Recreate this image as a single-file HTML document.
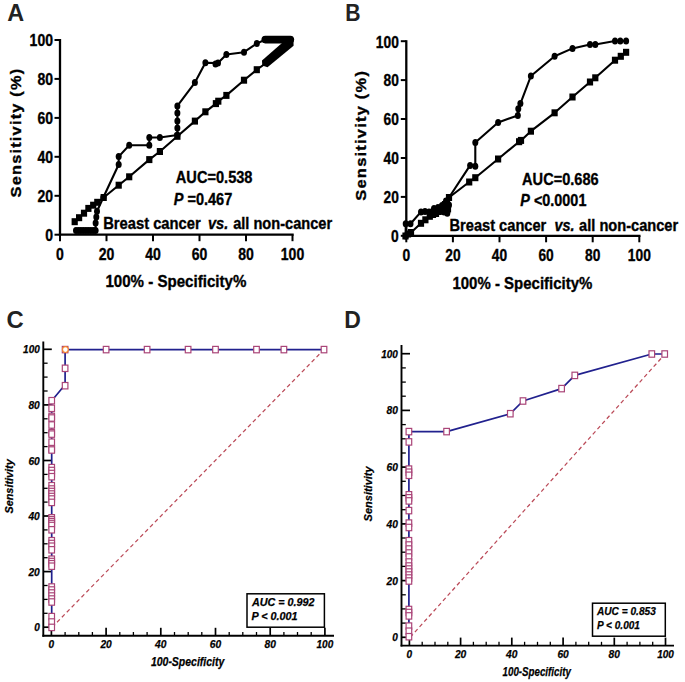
<!DOCTYPE html><html><head><meta charset="utf-8"><style>html,body{margin:0;padding:0;background:#fff;}svg{display:block;}text{font-family:"Liberation Sans",sans-serif;font-weight:bold;}</style></head><body>
<svg width="685" height="682" viewBox="0 0 685 682">
<rect width="685" height="682" fill="#fff"/>
<text x="7.2" y="21.2" font-size="23.2" textLength="16.9" lengthAdjust="spacingAndGlyphs" fill="#222" >A</text>
<line x1="60" y1="39" x2="60" y2="235.8" stroke="#000" stroke-width="2.3" />
<line x1="58.9" y1="234.7" x2="293.7" y2="234.7" stroke="#000" stroke-width="2.3" />
<line x1="54.5" y1="234.7" x2="60" y2="234.7" stroke="#000" stroke-width="2" />
<line x1="60" y1="234.7" x2="60" y2="241.2" stroke="#000" stroke-width="2" />
<text x="53" y="241" font-size="16.5" text-anchor="end" textLength="7.8" lengthAdjust="spacingAndGlyphs" stroke="#000" stroke-width="0.35">0</text>
<text x="60" y="260.3" font-size="16.5" text-anchor="middle" textLength="7.8" lengthAdjust="spacingAndGlyphs" stroke="#000" stroke-width="0.35">0</text>
<line x1="54.5" y1="195.8" x2="60" y2="195.8" stroke="#000" stroke-width="2" />
<line x1="106.5" y1="234.7" x2="106.5" y2="241.2" stroke="#000" stroke-width="2" />
<text x="53" y="202.1" font-size="16.5" text-anchor="end" textLength="15.6" lengthAdjust="spacingAndGlyphs" stroke="#000" stroke-width="0.35">20</text>
<text x="106.5" y="260.3" font-size="16.5" text-anchor="middle" textLength="15.6" lengthAdjust="spacingAndGlyphs" stroke="#000" stroke-width="0.35">20</text>
<line x1="54.5" y1="156.8" x2="60" y2="156.8" stroke="#000" stroke-width="2" />
<line x1="153" y1="234.7" x2="153" y2="241.2" stroke="#000" stroke-width="2" />
<text x="53" y="163.1" font-size="16.5" text-anchor="end" textLength="15.6" lengthAdjust="spacingAndGlyphs" stroke="#000" stroke-width="0.35">40</text>
<text x="153" y="260.3" font-size="16.5" text-anchor="middle" textLength="15.6" lengthAdjust="spacingAndGlyphs" stroke="#000" stroke-width="0.35">40</text>
<line x1="54.5" y1="117.9" x2="60" y2="117.9" stroke="#000" stroke-width="2" />
<line x1="199.5" y1="234.7" x2="199.5" y2="241.2" stroke="#000" stroke-width="2" />
<text x="53" y="124.2" font-size="16.5" text-anchor="end" textLength="15.6" lengthAdjust="spacingAndGlyphs" stroke="#000" stroke-width="0.35">60</text>
<text x="199.5" y="260.3" font-size="16.5" text-anchor="middle" textLength="15.6" lengthAdjust="spacingAndGlyphs" stroke="#000" stroke-width="0.35">60</text>
<line x1="54.5" y1="78.9" x2="60" y2="78.9" stroke="#000" stroke-width="2" />
<line x1="246" y1="234.7" x2="246" y2="241.2" stroke="#000" stroke-width="2" />
<text x="53" y="85.2" font-size="16.5" text-anchor="end" textLength="15.6" lengthAdjust="spacingAndGlyphs" stroke="#000" stroke-width="0.35">80</text>
<text x="246" y="260.3" font-size="16.5" text-anchor="middle" textLength="15.6" lengthAdjust="spacingAndGlyphs" stroke="#000" stroke-width="0.35">80</text>
<line x1="54.5" y1="40" x2="60" y2="40" stroke="#000" stroke-width="2" />
<line x1="292.5" y1="234.7" x2="292.5" y2="241.2" stroke="#000" stroke-width="2" />
<text x="53" y="46.3" font-size="16.5" text-anchor="end" textLength="23.4" lengthAdjust="spacingAndGlyphs" stroke="#000" stroke-width="0.35">100</text>
<text x="292.5" y="260.3" font-size="16.5" text-anchor="middle" textLength="23.4" lengthAdjust="spacingAndGlyphs" stroke="#000" stroke-width="0.35">100</text>
<text transform="translate(21,197.4) rotate(-90)" font-size="14.6" letter-spacing="1.1" textLength="129.8" lengthAdjust="spacingAndGlyphs" stroke="#000" stroke-width="0.35">Sensitivity (%)</text>
<text x="105.4" y="287.2" font-size="16.5" textLength="141" lengthAdjust="spacingAndGlyphs" stroke="#000" stroke-width="0.35">100% - Specificity%</text>
<text x="175.8" y="183.1" font-size="16.5" textLength="76.7" lengthAdjust="spacingAndGlyphs" stroke="#000" stroke-width="0.35">AUC=0.538</text>
<text x="173.7" y="205.2" font-size="16.5" textLength="58.6" lengthAdjust="spacingAndGlyphs" stroke="#000" stroke-width="0.35"><tspan font-style="italic">P</tspan> =0.467</text>
<text x="103.2" y="228.8" font-size="15.8" textLength="97.5" lengthAdjust="spacingAndGlyphs" stroke="#000" stroke-width="0.35">Breast cancer</text>
<text x="208" y="228.8" font-size="15.8" font-style="italic" textLength="20.3" lengthAdjust="spacingAndGlyphs" stroke="#000" stroke-width="0.35">vs.</text>
<text x="233.2" y="228.8" font-size="15.8" textLength="98.9" lengthAdjust="spacingAndGlyphs" stroke="#000" stroke-width="0.35">all non-cancer</text>
<polyline points="76,230.5 95.6,230.5 95.6,222.9 97,211.2 103.3,197.5 118.7,164.5 118.7,156.6 129.2,145.3 149.3,145.3 149.3,137.5 159.9,137.5 177.4,135 177.4,105.9 194.9,82.6 205.4,62.7 218,63 226.4,54.5 244,52.2 256.8,43.5 265.3,39.6 290.3,39.6" fill="none" stroke="#000" stroke-width="2.1" stroke-linejoin="round" />
<polyline points="74.7,221.7 79.1,217.7 84,213.2 88.4,208.4 93.2,205.2 97.3,202.3 103.7,197.5 118.7,185.2 129.2,176.8 149.3,159.6 159.9,151.5 177.4,136.3 194.9,121.1 205.4,111.8 215.9,103.6 218.3,101.2 226.4,95.4 244,80.2 256.8,69.7 265.5,63.5 291,41.5" fill="none" stroke="#000" stroke-width="2.1" stroke-linejoin="round" />
<ellipse cx="76" cy="230.5" rx="3" ry="3.5"/>
<ellipse cx="78.5" cy="230.5" rx="3" ry="3.5"/>
<ellipse cx="80.9" cy="230.5" rx="3" ry="3.5"/>
<ellipse cx="83.3" cy="230.5" rx="3" ry="3.5"/>
<ellipse cx="85.8" cy="230.5" rx="3" ry="3.5"/>
<ellipse cx="88.2" cy="230.5" rx="3" ry="3.5"/>
<ellipse cx="90.7" cy="230.5" rx="3" ry="3.5"/>
<ellipse cx="93.2" cy="230.5" rx="3" ry="3.5"/>
<ellipse cx="95.6" cy="230.5" rx="3" ry="3.5"/>
<ellipse cx="95.6" cy="222.9" rx="3" ry="3.5"/>
<ellipse cx="96.3" cy="217" rx="3" ry="3.5"/>
<ellipse cx="97" cy="211.2" rx="3" ry="3.5"/>
<ellipse cx="103.3" cy="197.5" rx="3" ry="3.5"/>
<ellipse cx="118.7" cy="164.5" rx="3" ry="3.5"/>
<ellipse cx="118.7" cy="156.6" rx="3" ry="3.5"/>
<ellipse cx="129.2" cy="145.3" rx="3" ry="3.5"/>
<ellipse cx="149.3" cy="145.3" rx="3" ry="3.5"/>
<ellipse cx="149.3" cy="137.5" rx="3" ry="3.5"/>
<ellipse cx="159.9" cy="137.5" rx="3" ry="3.5"/>
<ellipse cx="177.4" cy="135" rx="3" ry="3.5"/>
<ellipse cx="177.4" cy="128.1" rx="3" ry="3.5"/>
<ellipse cx="177.4" cy="121.1" rx="3" ry="3.5"/>
<ellipse cx="177.4" cy="112.9" rx="3" ry="3.5"/>
<ellipse cx="177.4" cy="105.9" rx="3" ry="3.5"/>
<ellipse cx="194.9" cy="82.6" rx="3" ry="3.5"/>
<ellipse cx="205.4" cy="62.7" rx="3" ry="3.5"/>
<ellipse cx="215.5" cy="63.9" rx="3" ry="3.5"/>
<ellipse cx="218" cy="63" rx="3" ry="3.5"/>
<ellipse cx="226.4" cy="54.5" rx="3" ry="3.5"/>
<ellipse cx="244" cy="52.2" rx="3" ry="3.5"/>
<ellipse cx="256.8" cy="43.5" rx="3" ry="3.5"/>
<ellipse cx="265.3" cy="39.6" rx="3" ry="3.5"/>
<ellipse cx="267.8" cy="39.6" rx="3" ry="3.5"/>
<ellipse cx="270.3" cy="39.6" rx="3" ry="3.5"/>
<ellipse cx="272.8" cy="39.6" rx="3" ry="3.5"/>
<ellipse cx="275.3" cy="39.6" rx="3" ry="3.5"/>
<ellipse cx="277.8" cy="39.6" rx="3" ry="3.5"/>
<ellipse cx="280.3" cy="39.6" rx="3" ry="3.5"/>
<ellipse cx="282.8" cy="39.6" rx="3" ry="3.5"/>
<ellipse cx="285.3" cy="39.6" rx="3" ry="3.5"/>
<ellipse cx="287.8" cy="39.6" rx="3" ry="3.5"/>
<ellipse cx="290.3" cy="39.6" rx="3" ry="3.5"/>
<rect x="71.6" y="218.2" width="6.2" height="7"/>
<rect x="76" y="214.2" width="6.2" height="7"/>
<rect x="80.9" y="209.7" width="6.2" height="7"/>
<rect x="85.3" y="204.9" width="6.2" height="7"/>
<rect x="90.1" y="201.7" width="6.2" height="7"/>
<rect x="94.2" y="198.8" width="6.2" height="7"/>
<rect x="100.6" y="194" width="6.2" height="7"/>
<rect x="115.6" y="181.7" width="6.2" height="7"/>
<rect x="126.1" y="173.3" width="6.2" height="7"/>
<rect x="146.2" y="156.1" width="6.2" height="7"/>
<rect x="156.8" y="148" width="6.2" height="7"/>
<rect x="174.3" y="132.8" width="6.2" height="7"/>
<rect x="191.8" y="117.6" width="6.2" height="7"/>
<rect x="202.3" y="108.3" width="6.2" height="7"/>
<rect x="212.8" y="100.1" width="6.2" height="7"/>
<rect x="215.2" y="97.7" width="6.2" height="7"/>
<rect x="223.3" y="91.9" width="6.2" height="7"/>
<rect x="240.9" y="76.7" width="6.2" height="7"/>
<rect x="253.7" y="66.2" width="6.2" height="7"/>
<line x1="265.3" y1="39.6" x2="290.3" y2="39.6" stroke="#000" stroke-width="7.7" stroke-linecap="round"/>
<polygon points="262,60.6 282,43 293.4,38 293.6,45.8 267.5,67.3 262.3,65.5" fill="#000"/>
<text x="345.2" y="21.2" font-size="23.2" textLength="15.3" lengthAdjust="spacingAndGlyphs" fill="#222" >B</text>
<line x1="406.3" y1="40.2" x2="406.3" y2="236.9" stroke="#000" stroke-width="2.3" />
<line x1="405.2" y1="235.8" x2="640.5" y2="235.8" stroke="#000" stroke-width="2.3" />
<line x1="400.8" y1="235.8" x2="406.3" y2="235.8" stroke="#000" stroke-width="2" />
<line x1="406.3" y1="235.8" x2="406.3" y2="242.3" stroke="#000" stroke-width="2" />
<text x="398.8" y="242.1" font-size="16.5" text-anchor="end" textLength="7.7" lengthAdjust="spacingAndGlyphs" stroke="#000" stroke-width="0.35">0</text>
<text x="406.3" y="260.8" font-size="16.5" text-anchor="middle" textLength="7.7" lengthAdjust="spacingAndGlyphs" stroke="#000" stroke-width="0.35">0</text>
<line x1="400.8" y1="196.9" x2="406.3" y2="196.9" stroke="#000" stroke-width="2" />
<line x1="452.9" y1="235.8" x2="452.9" y2="242.3" stroke="#000" stroke-width="2" />
<text x="398.8" y="203.2" font-size="16.5" text-anchor="end" textLength="15.3" lengthAdjust="spacingAndGlyphs" stroke="#000" stroke-width="0.35">20</text>
<text x="452.9" y="260.8" font-size="16.5" text-anchor="middle" textLength="15.3" lengthAdjust="spacingAndGlyphs" stroke="#000" stroke-width="0.35">20</text>
<line x1="400.8" y1="158" x2="406.3" y2="158" stroke="#000" stroke-width="2" />
<line x1="499.5" y1="235.8" x2="499.5" y2="242.3" stroke="#000" stroke-width="2" />
<text x="398.8" y="164.3" font-size="16.5" text-anchor="end" textLength="15.3" lengthAdjust="spacingAndGlyphs" stroke="#000" stroke-width="0.35">40</text>
<text x="499.5" y="260.8" font-size="16.5" text-anchor="middle" textLength="15.3" lengthAdjust="spacingAndGlyphs" stroke="#000" stroke-width="0.35">40</text>
<line x1="400.8" y1="119" x2="406.3" y2="119" stroke="#000" stroke-width="2" />
<line x1="546.1" y1="235.8" x2="546.1" y2="242.3" stroke="#000" stroke-width="2" />
<text x="398.8" y="125.3" font-size="16.5" text-anchor="end" textLength="15.3" lengthAdjust="spacingAndGlyphs" stroke="#000" stroke-width="0.35">60</text>
<text x="546.1" y="260.8" font-size="16.5" text-anchor="middle" textLength="15.3" lengthAdjust="spacingAndGlyphs" stroke="#000" stroke-width="0.35">60</text>
<line x1="400.8" y1="80.1" x2="406.3" y2="80.1" stroke="#000" stroke-width="2" />
<line x1="592.7" y1="235.8" x2="592.7" y2="242.3" stroke="#000" stroke-width="2" />
<text x="398.8" y="86.4" font-size="16.5" text-anchor="end" textLength="15.3" lengthAdjust="spacingAndGlyphs" stroke="#000" stroke-width="0.35">80</text>
<text x="592.7" y="260.8" font-size="16.5" text-anchor="middle" textLength="15.3" lengthAdjust="spacingAndGlyphs" stroke="#000" stroke-width="0.35">80</text>
<line x1="400.8" y1="41.2" x2="406.3" y2="41.2" stroke="#000" stroke-width="2" />
<line x1="639.3" y1="235.8" x2="639.3" y2="242.3" stroke="#000" stroke-width="2" />
<text x="398.8" y="47.5" font-size="16.5" text-anchor="end" textLength="23" lengthAdjust="spacingAndGlyphs" stroke="#000" stroke-width="0.35">100</text>
<text x="639.3" y="260.8" font-size="16.5" text-anchor="middle" textLength="23" lengthAdjust="spacingAndGlyphs" stroke="#000" stroke-width="0.35">100</text>
<text transform="translate(366.3,200.7) rotate(-90)" font-size="14.6" letter-spacing="1.1" textLength="130.8" lengthAdjust="spacingAndGlyphs" stroke="#000" stroke-width="0.35">Sensitivity (%)</text>
<text x="452.4" y="288.5" font-size="16.5" textLength="140" lengthAdjust="spacingAndGlyphs" stroke="#000" stroke-width="0.35">100% - Specificity%</text>
<text x="522.1" y="184.8" font-size="16.5" textLength="76.5" lengthAdjust="spacingAndGlyphs" stroke="#000" stroke-width="0.35">AUC=0.686</text>
<text x="520.3" y="206.4" font-size="16.5" textLength="66.1" lengthAdjust="spacingAndGlyphs" stroke="#000" stroke-width="0.35"><tspan font-style="italic">P</tspan> &lt;0.0001</text>
<text x="449.5" y="230.6" font-size="15.8" textLength="96.8" lengthAdjust="spacingAndGlyphs" stroke="#000" stroke-width="0.35">Breast cancer</text>
<text x="554.5" y="230.6" font-size="15.8" font-style="italic" textLength="20" lengthAdjust="spacingAndGlyphs" stroke="#000" stroke-width="0.35">vs.</text>
<text x="579.1" y="230.6" font-size="15.8" textLength="99.1" lengthAdjust="spacingAndGlyphs" stroke="#000" stroke-width="0.35">all non-cancer</text>
<polyline points="405.7,236 405.7,223.7 410.5,223.7 421,211.9 447.3,213.2 449,197.5 470.1,165.4 475.3,166.3 475.3,142.5 498.1,122.5 517.8,115.4 520.4,103.6 530.9,76 554.6,56.3 572.5,48.4 590,44.5 595.3,44.5 615,41 626.1,41" fill="none" stroke="#000" stroke-width="2.1" stroke-linejoin="round" />
<polyline points="405.5,236 408,234 411,232.5 421,223.3 425.4,219.8 429.8,216.3 433,214.5 436,213.5 438.5,211.5 441,209.5 443,207 445,204.5 447,201.5 444,211 448,209 446,206 449,197.5 469.2,182 475.3,177.7 498.1,159 519.1,141.7 521,140.4 530.9,131.2 554.6,112.8 572.5,97 590,82 595.3,77.8 615,60.2 620.8,56.3 626.1,52.3" fill="none" stroke="#000" stroke-width="2.1" stroke-linejoin="round" />
<ellipse cx="405.7" cy="236" rx="3" ry="3.5"/>
<ellipse cx="405.7" cy="223.7" rx="3" ry="3.5"/>
<ellipse cx="410.5" cy="223.7" rx="3" ry="3.5"/>
<ellipse cx="421" cy="211.9" rx="3" ry="3.5"/>
<ellipse cx="425" cy="211.5" rx="3" ry="3.5"/>
<ellipse cx="429" cy="212" rx="3" ry="3.5"/>
<ellipse cx="433" cy="211" rx="3" ry="3.5"/>
<ellipse cx="437" cy="211.5" rx="3" ry="3.5"/>
<ellipse cx="441" cy="210.5" rx="3" ry="3.5"/>
<ellipse cx="444" cy="212" rx="3" ry="3.5"/>
<ellipse cx="447.3" cy="213.2" rx="3" ry="3.5"/>
<ellipse cx="434" cy="208.5" rx="3" ry="3.5"/>
<ellipse cx="438" cy="207.5" rx="3" ry="3.5"/>
<ellipse cx="442" cy="205.5" rx="3" ry="3.5"/>
<ellipse cx="446" cy="201" rx="3" ry="3.5"/>
<ellipse cx="449" cy="205" rx="3" ry="3.5"/>
<ellipse cx="449" cy="197.5" rx="3" ry="3.5"/>
<ellipse cx="470.1" cy="165.4" rx="3" ry="3.5"/>
<ellipse cx="475.3" cy="166.3" rx="3" ry="3.5"/>
<ellipse cx="475.3" cy="142.5" rx="3" ry="3.5"/>
<ellipse cx="498.1" cy="122.5" rx="3" ry="3.5"/>
<ellipse cx="517.8" cy="115.4" rx="3" ry="3.5"/>
<ellipse cx="518.3" cy="108.8" rx="3" ry="3.5"/>
<ellipse cx="520.4" cy="103.6" rx="3" ry="3.5"/>
<ellipse cx="530.9" cy="76" rx="3" ry="3.5"/>
<ellipse cx="554.6" cy="56.3" rx="3" ry="3.5"/>
<ellipse cx="572.5" cy="48.4" rx="3" ry="3.5"/>
<ellipse cx="590" cy="44.5" rx="3" ry="3.5"/>
<ellipse cx="595.3" cy="44.5" rx="3" ry="3.5"/>
<ellipse cx="615" cy="41" rx="3" ry="3.5"/>
<ellipse cx="620.3" cy="41" rx="3" ry="3.5"/>
<ellipse cx="626.1" cy="41" rx="3" ry="3.5"/>
<rect x="402.4" y="232.5" width="6.2" height="7"/>
<rect x="404.9" y="230.5" width="6.2" height="7"/>
<rect x="407.9" y="229" width="6.2" height="7"/>
<rect x="417.9" y="219.8" width="6.2" height="7"/>
<rect x="422.3" y="216.3" width="6.2" height="7"/>
<rect x="426.7" y="212.8" width="6.2" height="7"/>
<rect x="429.9" y="211" width="6.2" height="7"/>
<rect x="432.9" y="210" width="6.2" height="7"/>
<rect x="435.4" y="208" width="6.2" height="7"/>
<rect x="437.9" y="206" width="6.2" height="7"/>
<rect x="439.9" y="203.5" width="6.2" height="7"/>
<rect x="441.9" y="201" width="6.2" height="7"/>
<rect x="443.9" y="198" width="6.2" height="7"/>
<rect x="440.9" y="207.5" width="6.2" height="7"/>
<rect x="444.9" y="205.5" width="6.2" height="7"/>
<rect x="442.9" y="202.5" width="6.2" height="7"/>
<rect x="445.9" y="194" width="6.2" height="7"/>
<rect x="466.1" y="178.5" width="6.2" height="7"/>
<rect x="472.2" y="174.2" width="6.2" height="7"/>
<rect x="495" y="155.5" width="6.2" height="7"/>
<rect x="516" y="138.2" width="6.2" height="7"/>
<rect x="517.9" y="136.9" width="6.2" height="7"/>
<rect x="527.8" y="127.7" width="6.2" height="7"/>
<rect x="551.5" y="109.3" width="6.2" height="7"/>
<rect x="569.4" y="93.5" width="6.2" height="7"/>
<rect x="586.9" y="78.5" width="6.2" height="7"/>
<rect x="592.2" y="74.3" width="6.2" height="7"/>
<rect x="611.9" y="56.7" width="6.2" height="7"/>
<rect x="617.7" y="52.8" width="6.2" height="7"/>
<rect x="623" y="48.8" width="6.2" height="7"/>
<text x="6.6" y="327.8" font-size="23.2" textLength="17.2" lengthAdjust="spacingAndGlyphs" fill="#222" >C</text>
<line x1="43.3" y1="341.4" x2="43.3" y2="636.7" stroke="#000" stroke-width="1.9" />
<line x1="42.4" y1="635.8" x2="334" y2="635.8" stroke="#000" stroke-width="1.9" />
<line x1="43.3" y1="627.2" x2="51.8" y2="627.2" stroke="#000" stroke-width="1.7" />
<line x1="51.4" y1="635.8" x2="51.4" y2="627.8" stroke="#000" stroke-width="1.7" />
<text x="39.8" y="631.2" font-size="11.3" font-style="italic" text-anchor="end" textLength="5.6" lengthAdjust="spacingAndGlyphs" stroke="#000" stroke-width="0.25">0</text>
<text x="51.4" y="648.2" font-size="11.3" font-style="italic" text-anchor="middle" textLength="5.6" lengthAdjust="spacingAndGlyphs" stroke="#000" stroke-width="0.25">0</text>
<line x1="43.3" y1="613.3" x2="47.6" y2="613.3" stroke="#000" stroke-width="1.3" />
<line x1="65.1" y1="635.8" x2="65.1" y2="632" stroke="#000" stroke-width="1.3" />
<line x1="43.3" y1="599.4" x2="47.6" y2="599.4" stroke="#000" stroke-width="1.3" />
<line x1="78.8" y1="635.8" x2="78.8" y2="632" stroke="#000" stroke-width="1.3" />
<line x1="43.3" y1="585.5" x2="47.6" y2="585.5" stroke="#000" stroke-width="1.3" />
<line x1="92.4" y1="635.8" x2="92.4" y2="632" stroke="#000" stroke-width="1.3" />
<line x1="43.3" y1="571.6" x2="51.8" y2="571.6" stroke="#000" stroke-width="1.7" />
<line x1="106.1" y1="635.8" x2="106.1" y2="627.8" stroke="#000" stroke-width="1.7" />
<text x="39.8" y="575.6" font-size="11.3" font-style="italic" text-anchor="end" textLength="11.4" lengthAdjust="spacingAndGlyphs" stroke="#000" stroke-width="0.25">20</text>
<text x="106.1" y="648.2" font-size="11.3" font-style="italic" text-anchor="middle" textLength="11.4" lengthAdjust="spacingAndGlyphs" stroke="#000" stroke-width="0.25">20</text>
<line x1="43.3" y1="557.7" x2="47.6" y2="557.7" stroke="#000" stroke-width="1.3" />
<line x1="119.8" y1="635.8" x2="119.8" y2="632" stroke="#000" stroke-width="1.3" />
<line x1="43.3" y1="543.8" x2="47.6" y2="543.8" stroke="#000" stroke-width="1.3" />
<line x1="133.4" y1="635.8" x2="133.4" y2="632" stroke="#000" stroke-width="1.3" />
<line x1="43.3" y1="529.9" x2="47.6" y2="529.9" stroke="#000" stroke-width="1.3" />
<line x1="147.1" y1="635.8" x2="147.1" y2="632" stroke="#000" stroke-width="1.3" />
<line x1="43.3" y1="516" x2="51.8" y2="516" stroke="#000" stroke-width="1.7" />
<line x1="160.8" y1="635.8" x2="160.8" y2="627.8" stroke="#000" stroke-width="1.7" />
<text x="39.8" y="520" font-size="11.3" font-style="italic" text-anchor="end" textLength="11.4" lengthAdjust="spacingAndGlyphs" stroke="#000" stroke-width="0.25">40</text>
<text x="160.8" y="648.2" font-size="11.3" font-style="italic" text-anchor="middle" textLength="11.4" lengthAdjust="spacingAndGlyphs" stroke="#000" stroke-width="0.25">40</text>
<line x1="43.3" y1="502.1" x2="47.6" y2="502.1" stroke="#000" stroke-width="1.3" />
<line x1="174.5" y1="635.8" x2="174.5" y2="632" stroke="#000" stroke-width="1.3" />
<line x1="43.3" y1="488.3" x2="47.6" y2="488.3" stroke="#000" stroke-width="1.3" />
<line x1="188.2" y1="635.8" x2="188.2" y2="632" stroke="#000" stroke-width="1.3" />
<line x1="43.3" y1="474.4" x2="47.6" y2="474.4" stroke="#000" stroke-width="1.3" />
<line x1="201.8" y1="635.8" x2="201.8" y2="632" stroke="#000" stroke-width="1.3" />
<line x1="43.3" y1="460.5" x2="51.8" y2="460.5" stroke="#000" stroke-width="1.7" />
<line x1="215.5" y1="635.8" x2="215.5" y2="627.8" stroke="#000" stroke-width="1.7" />
<text x="39.8" y="464.5" font-size="11.3" font-style="italic" text-anchor="end" textLength="11.4" lengthAdjust="spacingAndGlyphs" stroke="#000" stroke-width="0.25">60</text>
<text x="215.5" y="648.2" font-size="11.3" font-style="italic" text-anchor="middle" textLength="11.4" lengthAdjust="spacingAndGlyphs" stroke="#000" stroke-width="0.25">60</text>
<line x1="43.3" y1="446.6" x2="47.6" y2="446.6" stroke="#000" stroke-width="1.3" />
<line x1="229.2" y1="635.8" x2="229.2" y2="632" stroke="#000" stroke-width="1.3" />
<line x1="43.3" y1="432.7" x2="47.6" y2="432.7" stroke="#000" stroke-width="1.3" />
<line x1="242.8" y1="635.8" x2="242.8" y2="632" stroke="#000" stroke-width="1.3" />
<line x1="43.3" y1="418.8" x2="47.6" y2="418.8" stroke="#000" stroke-width="1.3" />
<line x1="256.5" y1="635.8" x2="256.5" y2="632" stroke="#000" stroke-width="1.3" />
<line x1="43.3" y1="404.9" x2="51.8" y2="404.9" stroke="#000" stroke-width="1.7" />
<line x1="270.2" y1="635.8" x2="270.2" y2="627.8" stroke="#000" stroke-width="1.7" />
<text x="39.8" y="408.9" font-size="11.3" font-style="italic" text-anchor="end" textLength="11.4" lengthAdjust="spacingAndGlyphs" stroke="#000" stroke-width="0.25">80</text>
<text x="270.2" y="648.2" font-size="11.3" font-style="italic" text-anchor="middle" textLength="11.4" lengthAdjust="spacingAndGlyphs" stroke="#000" stroke-width="0.25">80</text>
<line x1="43.3" y1="391" x2="47.6" y2="391" stroke="#000" stroke-width="1.3" />
<line x1="283.9" y1="635.8" x2="283.9" y2="632" stroke="#000" stroke-width="1.3" />
<line x1="43.3" y1="377.1" x2="47.6" y2="377.1" stroke="#000" stroke-width="1.3" />
<line x1="297.5" y1="635.8" x2="297.5" y2="632" stroke="#000" stroke-width="1.3" />
<line x1="43.3" y1="363.2" x2="47.6" y2="363.2" stroke="#000" stroke-width="1.3" />
<line x1="311.2" y1="635.8" x2="311.2" y2="632" stroke="#000" stroke-width="1.3" />
<line x1="43.3" y1="349.3" x2="51.8" y2="349.3" stroke="#000" stroke-width="1.7" />
<line x1="324.9" y1="635.8" x2="324.9" y2="627.8" stroke="#000" stroke-width="1.7" />
<text x="39.8" y="353.3" font-size="11.3" font-style="italic" text-anchor="end" textLength="16.7" lengthAdjust="spacingAndGlyphs" stroke="#000" stroke-width="0.25">100</text>
<text x="324.9" y="648.2" font-size="11.3" font-style="italic" text-anchor="middle" textLength="16.7" lengthAdjust="spacingAndGlyphs" stroke="#000" stroke-width="0.25">100</text>
<text transform="translate(12.8,513.5) rotate(-90)" font-size="11.6" font-style="italic" textLength="54.2" lengthAdjust="spacingAndGlyphs" stroke="#000" stroke-width="0.25">Sensitivity</text>
<text x="150.9" y="665.5" font-size="12.4" font-style="italic" textLength="73.4" lengthAdjust="spacingAndGlyphs" stroke="#000" stroke-width="0.25">100-Specificity</text>
<line x1="52.1" y1="627.2" x2="323.9" y2="349.6" stroke="#bb4a58" stroke-width="1.25" stroke-dasharray="4,3"/>
<polyline points="51.7,627.2 51.7,400.8 61.5,389 65.1,385.7 65.1,349.6 324,349.6" fill="none" stroke="#21218e" stroke-width="1.7" stroke-linejoin="round" />
<rect x="48.9" y="397.5" width="5.6" height="6.4" fill="#fff" stroke="#aa4578" stroke-width="1.2"/>
<rect x="48.9" y="405.1" width="5.6" height="6.4" fill="#fff" stroke="#aa4578" stroke-width="1.2"/>
<rect x="48.9" y="413.2" width="5.6" height="6.4" fill="#fff" stroke="#aa4578" stroke-width="1.2"/>
<rect x="48.9" y="414.8" width="5.6" height="6.4" fill="#fff" stroke="#aa4578" stroke-width="1.2"/>
<rect x="48.9" y="421.8" width="5.6" height="6.4" fill="#fff" stroke="#aa4578" stroke-width="1.2"/>
<rect x="48.9" y="429.5" width="5.6" height="6.4" fill="#fff" stroke="#aa4578" stroke-width="1.2"/>
<rect x="48.9" y="430.9" width="5.6" height="6.4" fill="#fff" stroke="#aa4578" stroke-width="1.2"/>
<rect x="48.9" y="439" width="5.6" height="6.4" fill="#fff" stroke="#aa4578" stroke-width="1.2"/>
<rect x="48.9" y="445.7" width="5.6" height="6.4" fill="#fff" stroke="#aa4578" stroke-width="1.2"/>
<rect x="48.9" y="446.8" width="5.6" height="6.4" fill="#fff" stroke="#aa4578" stroke-width="1.2"/>
<rect x="48.9" y="464.4" width="5.6" height="6.4" fill="#fff" stroke="#aa4578" stroke-width="1.2"/>
<rect x="48.9" y="467.3" width="5.6" height="6.4" fill="#fff" stroke="#aa4578" stroke-width="1.2"/>
<rect x="48.9" y="470.3" width="5.6" height="6.4" fill="#fff" stroke="#aa4578" stroke-width="1.2"/>
<rect x="48.9" y="473.5" width="5.6" height="6.4" fill="#fff" stroke="#aa4578" stroke-width="1.2"/>
<rect x="48.9" y="482.5" width="5.6" height="6.4" fill="#fff" stroke="#aa4578" stroke-width="1.2"/>
<rect x="48.9" y="485.8" width="5.6" height="6.4" fill="#fff" stroke="#aa4578" stroke-width="1.2"/>
<rect x="48.9" y="488.3" width="5.6" height="6.4" fill="#fff" stroke="#aa4578" stroke-width="1.2"/>
<rect x="48.9" y="490.8" width="5.6" height="6.4" fill="#fff" stroke="#aa4578" stroke-width="1.2"/>
<rect x="48.9" y="493.3" width="5.6" height="6.4" fill="#fff" stroke="#aa4578" stroke-width="1.2"/>
<rect x="48.9" y="495.8" width="5.6" height="6.4" fill="#fff" stroke="#aa4578" stroke-width="1.2"/>
<rect x="48.9" y="499.2" width="5.6" height="6.4" fill="#fff" stroke="#aa4578" stroke-width="1.2"/>
<rect x="48.9" y="514.6" width="5.6" height="6.4" fill="#fff" stroke="#aa4578" stroke-width="1.2"/>
<rect x="48.9" y="516.5" width="5.6" height="6.4" fill="#fff" stroke="#aa4578" stroke-width="1.2"/>
<rect x="48.9" y="518.4" width="5.6" height="6.4" fill="#fff" stroke="#aa4578" stroke-width="1.2"/>
<rect x="48.9" y="520.3" width="5.6" height="6.4" fill="#fff" stroke="#aa4578" stroke-width="1.2"/>
<rect x="48.9" y="522.3" width="5.6" height="6.4" fill="#fff" stroke="#aa4578" stroke-width="1.2"/>
<rect x="48.9" y="526.6" width="5.6" height="6.4" fill="#fff" stroke="#aa4578" stroke-width="1.2"/>
<rect x="48.9" y="537.5" width="5.6" height="6.4" fill="#fff" stroke="#aa4578" stroke-width="1.2"/>
<rect x="48.9" y="540.3" width="5.6" height="6.4" fill="#fff" stroke="#aa4578" stroke-width="1.2"/>
<rect x="48.9" y="543" width="5.6" height="6.4" fill="#fff" stroke="#aa4578" stroke-width="1.2"/>
<rect x="48.9" y="546.6" width="5.6" height="6.4" fill="#fff" stroke="#aa4578" stroke-width="1.2"/>
<rect x="48.9" y="556" width="5.6" height="6.4" fill="#fff" stroke="#aa4578" stroke-width="1.2"/>
<rect x="48.9" y="558.3" width="5.6" height="6.4" fill="#fff" stroke="#aa4578" stroke-width="1.2"/>
<rect x="48.9" y="560.5" width="5.6" height="6.4" fill="#fff" stroke="#aa4578" stroke-width="1.2"/>
<rect x="48.9" y="563" width="5.6" height="6.4" fill="#fff" stroke="#aa4578" stroke-width="1.2"/>
<rect x="48.9" y="583.8" width="5.6" height="6.4" fill="#fff" stroke="#aa4578" stroke-width="1.2"/>
<rect x="48.9" y="586.8" width="5.6" height="6.4" fill="#fff" stroke="#aa4578" stroke-width="1.2"/>
<rect x="48.9" y="589.8" width="5.6" height="6.4" fill="#fff" stroke="#aa4578" stroke-width="1.2"/>
<rect x="48.9" y="592.8" width="5.6" height="6.4" fill="#fff" stroke="#aa4578" stroke-width="1.2"/>
<rect x="48.9" y="595.8" width="5.6" height="6.4" fill="#fff" stroke="#aa4578" stroke-width="1.2"/>
<rect x="48.9" y="598.8" width="5.6" height="6.4" fill="#fff" stroke="#aa4578" stroke-width="1.2"/>
<rect x="48.9" y="613.4" width="5.6" height="6.4" fill="#fff" stroke="#aa4578" stroke-width="1.2"/>
<rect x="48.9" y="618.8" width="5.6" height="6.4" fill="#fff" stroke="#aa4578" stroke-width="1.2"/>
<rect x="48.9" y="624.2" width="5.6" height="6.4" fill="#fff" stroke="#aa4578" stroke-width="1.2"/>
<rect x="62.3" y="382.5" width="5.6" height="6.4" fill="#fff" stroke="#aa4578" stroke-width="1.2"/>
<rect x="62.3" y="365.1" width="5.6" height="6.4" fill="#fff" stroke="#aa4578" stroke-width="1.2"/>
<rect x="62.3" y="346.4" width="5.6" height="6.4" fill="#fff" stroke="#aa4578" stroke-width="1.2"/>
<rect x="103.3" y="346.4" width="5.6" height="6.4" fill="#fff" stroke="#aa4578" stroke-width="1.2"/>
<rect x="144.3" y="346.4" width="5.6" height="6.4" fill="#fff" stroke="#aa4578" stroke-width="1.2"/>
<rect x="185.3" y="346.4" width="5.6" height="6.4" fill="#fff" stroke="#aa4578" stroke-width="1.2"/>
<rect x="212.7" y="346.4" width="5.6" height="6.4" fill="#fff" stroke="#aa4578" stroke-width="1.2"/>
<rect x="253.7" y="346.4" width="5.6" height="6.4" fill="#fff" stroke="#aa4578" stroke-width="1.2"/>
<rect x="281.1" y="346.4" width="5.6" height="6.4" fill="#fff" stroke="#aa4578" stroke-width="1.2"/>
<rect x="321.2" y="346.4" width="5.6" height="6.4" fill="#fff" stroke="#aa4578" stroke-width="1.2"/>
<circle cx="65.4" cy="349.6" r="2.9" fill="#fff" stroke="#f5852e" stroke-width="1.2"/>
<rect x="247" y="593.8" width="77.4" height="33.4" fill="#fff" stroke="#000" stroke-width="1.5"/>
<text x="251.9" y="605.6" font-size="11.6" font-style="italic" textLength="62.6" lengthAdjust="spacingAndGlyphs" stroke="#000" stroke-width="0.25">AUC = 0.992</text>
<text x="251.4" y="619.9" font-size="11.6" font-style="italic" textLength="46.2" lengthAdjust="spacingAndGlyphs" stroke="#000" stroke-width="0.25">P &lt; 0.001</text>
<text x="344.3" y="328.2" font-size="23.2" textLength="16.6" lengthAdjust="spacingAndGlyphs" fill="#222" >D</text>
<line x1="401.5" y1="344.9" x2="401.5" y2="646.5" stroke="#000" stroke-width="1.9" />
<line x1="400.6" y1="645.6" x2="674" y2="645.6" stroke="#000" stroke-width="1.9" />
<line x1="401.5" y1="637.3" x2="410" y2="637.3" stroke="#000" stroke-width="1.7" />
<line x1="409.4" y1="645.6" x2="409.4" y2="637.6" stroke="#000" stroke-width="1.7" />
<text x="397.9" y="641.3" font-size="11.3" font-style="italic" text-anchor="end" textLength="5.6" lengthAdjust="spacingAndGlyphs" stroke="#000" stroke-width="0.25">0</text>
<text x="409.4" y="658.1" font-size="11.3" font-style="italic" text-anchor="middle" textLength="5.6" lengthAdjust="spacingAndGlyphs" stroke="#000" stroke-width="0.25">0</text>
<line x1="401.5" y1="623.1" x2="405.8" y2="623.1" stroke="#000" stroke-width="1.3" />
<line x1="422.2" y1="645.6" x2="422.2" y2="641.8" stroke="#000" stroke-width="1.3" />
<line x1="401.5" y1="608.9" x2="405.8" y2="608.9" stroke="#000" stroke-width="1.3" />
<line x1="435" y1="645.6" x2="435" y2="641.8" stroke="#000" stroke-width="1.3" />
<line x1="401.5" y1="594.8" x2="405.8" y2="594.8" stroke="#000" stroke-width="1.3" />
<line x1="447.8" y1="645.6" x2="447.8" y2="641.8" stroke="#000" stroke-width="1.3" />
<line x1="401.5" y1="580.6" x2="410" y2="580.6" stroke="#000" stroke-width="1.7" />
<line x1="460.6" y1="645.6" x2="460.6" y2="637.6" stroke="#000" stroke-width="1.7" />
<text x="397.9" y="584.6" font-size="11.3" font-style="italic" text-anchor="end" textLength="11.4" lengthAdjust="spacingAndGlyphs" stroke="#000" stroke-width="0.25">20</text>
<text x="460.6" y="658.1" font-size="11.3" font-style="italic" text-anchor="middle" textLength="11.4" lengthAdjust="spacingAndGlyphs" stroke="#000" stroke-width="0.25">20</text>
<line x1="401.5" y1="566.4" x2="405.8" y2="566.4" stroke="#000" stroke-width="1.3" />
<line x1="473.4" y1="645.6" x2="473.4" y2="641.8" stroke="#000" stroke-width="1.3" />
<line x1="401.5" y1="552.2" x2="405.8" y2="552.2" stroke="#000" stroke-width="1.3" />
<line x1="486.2" y1="645.6" x2="486.2" y2="641.8" stroke="#000" stroke-width="1.3" />
<line x1="401.5" y1="538" x2="405.8" y2="538" stroke="#000" stroke-width="1.3" />
<line x1="499" y1="645.6" x2="499" y2="641.8" stroke="#000" stroke-width="1.3" />
<line x1="401.5" y1="523.9" x2="410" y2="523.9" stroke="#000" stroke-width="1.7" />
<line x1="511.8" y1="645.6" x2="511.8" y2="637.6" stroke="#000" stroke-width="1.7" />
<text x="397.9" y="527.9" font-size="11.3" font-style="italic" text-anchor="end" textLength="11.4" lengthAdjust="spacingAndGlyphs" stroke="#000" stroke-width="0.25">40</text>
<text x="511.8" y="658.1" font-size="11.3" font-style="italic" text-anchor="middle" textLength="11.4" lengthAdjust="spacingAndGlyphs" stroke="#000" stroke-width="0.25">40</text>
<line x1="401.5" y1="509.7" x2="405.8" y2="509.7" stroke="#000" stroke-width="1.3" />
<line x1="524.6" y1="645.6" x2="524.6" y2="641.8" stroke="#000" stroke-width="1.3" />
<line x1="401.5" y1="495.5" x2="405.8" y2="495.5" stroke="#000" stroke-width="1.3" />
<line x1="537.5" y1="645.6" x2="537.5" y2="641.8" stroke="#000" stroke-width="1.3" />
<line x1="401.5" y1="481.3" x2="405.8" y2="481.3" stroke="#000" stroke-width="1.3" />
<line x1="550.3" y1="645.6" x2="550.3" y2="641.8" stroke="#000" stroke-width="1.3" />
<line x1="401.5" y1="467.1" x2="410" y2="467.1" stroke="#000" stroke-width="1.7" />
<line x1="563.1" y1="645.6" x2="563.1" y2="637.6" stroke="#000" stroke-width="1.7" />
<text x="397.9" y="471.1" font-size="11.3" font-style="italic" text-anchor="end" textLength="11.4" lengthAdjust="spacingAndGlyphs" stroke="#000" stroke-width="0.25">60</text>
<text x="563.1" y="658.1" font-size="11.3" font-style="italic" text-anchor="middle" textLength="11.4" lengthAdjust="spacingAndGlyphs" stroke="#000" stroke-width="0.25">60</text>
<line x1="401.5" y1="453" x2="405.8" y2="453" stroke="#000" stroke-width="1.3" />
<line x1="575.9" y1="645.6" x2="575.9" y2="641.8" stroke="#000" stroke-width="1.3" />
<line x1="401.5" y1="438.8" x2="405.8" y2="438.8" stroke="#000" stroke-width="1.3" />
<line x1="588.7" y1="645.6" x2="588.7" y2="641.8" stroke="#000" stroke-width="1.3" />
<line x1="401.5" y1="424.6" x2="405.8" y2="424.6" stroke="#000" stroke-width="1.3" />
<line x1="601.5" y1="645.6" x2="601.5" y2="641.8" stroke="#000" stroke-width="1.3" />
<line x1="401.5" y1="410.4" x2="410" y2="410.4" stroke="#000" stroke-width="1.7" />
<line x1="614.3" y1="645.6" x2="614.3" y2="637.6" stroke="#000" stroke-width="1.7" />
<text x="397.9" y="414.4" font-size="11.3" font-style="italic" text-anchor="end" textLength="11.4" lengthAdjust="spacingAndGlyphs" stroke="#000" stroke-width="0.25">80</text>
<text x="614.3" y="658.1" font-size="11.3" font-style="italic" text-anchor="middle" textLength="11.4" lengthAdjust="spacingAndGlyphs" stroke="#000" stroke-width="0.25">80</text>
<line x1="401.5" y1="396.2" x2="405.8" y2="396.2" stroke="#000" stroke-width="1.3" />
<line x1="627.1" y1="645.6" x2="627.1" y2="641.8" stroke="#000" stroke-width="1.3" />
<line x1="401.5" y1="382.1" x2="405.8" y2="382.1" stroke="#000" stroke-width="1.3" />
<line x1="639.9" y1="645.6" x2="639.9" y2="641.8" stroke="#000" stroke-width="1.3" />
<line x1="401.5" y1="367.9" x2="405.8" y2="367.9" stroke="#000" stroke-width="1.3" />
<line x1="652.7" y1="645.6" x2="652.7" y2="641.8" stroke="#000" stroke-width="1.3" />
<line x1="401.5" y1="353.7" x2="410" y2="353.7" stroke="#000" stroke-width="1.7" />
<line x1="665.5" y1="645.6" x2="665.5" y2="637.6" stroke="#000" stroke-width="1.7" />
<text x="397.9" y="357.7" font-size="11.3" font-style="italic" text-anchor="end" textLength="16.7" lengthAdjust="spacingAndGlyphs" stroke="#000" stroke-width="0.25">100</text>
<text x="665.5" y="658.1" font-size="11.3" font-style="italic" text-anchor="middle" textLength="16.7" lengthAdjust="spacingAndGlyphs" stroke="#000" stroke-width="0.25">100</text>
<text transform="translate(372,521.4) rotate(-90)" font-size="11.6" font-style="italic" textLength="55" lengthAdjust="spacingAndGlyphs" stroke="#000" stroke-width="0.25">Sensitivity</text>
<text x="502.6" y="675.5" font-size="12.4" font-style="italic" textLength="68.2" lengthAdjust="spacingAndGlyphs" stroke="#000" stroke-width="0.25">100-Specificity</text>
<line x1="410.2" y1="637.3" x2="664.9" y2="354.2" stroke="#bb4a58" stroke-width="1.25" stroke-dasharray="4,3"/>
<polyline points="408.9,637.3 408.9,431.6 446.6,431.6 510.3,413.7 523,401 561.6,388.6 574.8,375.4 651.8,354 664.7,354" fill="none" stroke="#21218e" stroke-width="1.7" stroke-linejoin="round" />
<rect x="406.1" y="428.4" width="5.6" height="6.4" fill="#fff" stroke="#aa4578" stroke-width="1.2"/>
<rect x="406.1" y="438.7" width="5.6" height="6.4" fill="#fff" stroke="#aa4578" stroke-width="1.2"/>
<rect x="406.1" y="465.9" width="5.6" height="6.4" fill="#fff" stroke="#aa4578" stroke-width="1.2"/>
<rect x="406.1" y="469" width="5.6" height="6.4" fill="#fff" stroke="#aa4578" stroke-width="1.2"/>
<rect x="406.1" y="472.1" width="5.6" height="6.4" fill="#fff" stroke="#aa4578" stroke-width="1.2"/>
<rect x="406.1" y="491.6" width="5.6" height="6.4" fill="#fff" stroke="#aa4578" stroke-width="1.2"/>
<rect x="406.1" y="494.6" width="5.6" height="6.4" fill="#fff" stroke="#aa4578" stroke-width="1.2"/>
<rect x="406.1" y="497.7" width="5.6" height="6.4" fill="#fff" stroke="#aa4578" stroke-width="1.2"/>
<rect x="406.1" y="507.4" width="5.6" height="6.4" fill="#fff" stroke="#aa4578" stroke-width="1.2"/>
<rect x="406.1" y="519.9" width="5.6" height="6.4" fill="#fff" stroke="#aa4578" stroke-width="1.2"/>
<rect x="406.1" y="524.3" width="5.6" height="6.4" fill="#fff" stroke="#aa4578" stroke-width="1.2"/>
<rect x="406.1" y="537.5" width="5.6" height="6.4" fill="#fff" stroke="#aa4578" stroke-width="1.2"/>
<rect x="406.1" y="541.8" width="5.6" height="6.4" fill="#fff" stroke="#aa4578" stroke-width="1.2"/>
<rect x="406.1" y="545.8" width="5.6" height="6.4" fill="#fff" stroke="#aa4578" stroke-width="1.2"/>
<rect x="406.1" y="549.8" width="5.6" height="6.4" fill="#fff" stroke="#aa4578" stroke-width="1.2"/>
<rect x="406.1" y="553.8" width="5.6" height="6.4" fill="#fff" stroke="#aa4578" stroke-width="1.2"/>
<rect x="406.1" y="558.8" width="5.6" height="6.4" fill="#fff" stroke="#aa4578" stroke-width="1.2"/>
<rect x="406.1" y="562.8" width="5.6" height="6.4" fill="#fff" stroke="#aa4578" stroke-width="1.2"/>
<rect x="406.1" y="565.8" width="5.6" height="6.4" fill="#fff" stroke="#aa4578" stroke-width="1.2"/>
<rect x="406.1" y="568.8" width="5.6" height="6.4" fill="#fff" stroke="#aa4578" stroke-width="1.2"/>
<rect x="406.1" y="571.8" width="5.6" height="6.4" fill="#fff" stroke="#aa4578" stroke-width="1.2"/>
<rect x="406.1" y="574.8" width="5.6" height="6.4" fill="#fff" stroke="#aa4578" stroke-width="1.2"/>
<rect x="406.1" y="577.8" width="5.6" height="6.4" fill="#fff" stroke="#aa4578" stroke-width="1.2"/>
<rect x="406.1" y="606.3" width="5.6" height="6.4" fill="#fff" stroke="#aa4578" stroke-width="1.2"/>
<rect x="406.1" y="609.3" width="5.6" height="6.4" fill="#fff" stroke="#aa4578" stroke-width="1.2"/>
<rect x="406.1" y="612.7" width="5.6" height="6.4" fill="#fff" stroke="#aa4578" stroke-width="1.2"/>
<rect x="406.1" y="622.9" width="5.6" height="6.4" fill="#fff" stroke="#aa4578" stroke-width="1.2"/>
<rect x="406.1" y="628" width="5.6" height="6.4" fill="#fff" stroke="#aa4578" stroke-width="1.2"/>
<rect x="406.1" y="633.5" width="5.6" height="6.4" fill="#fff" stroke="#aa4578" stroke-width="1.2"/>
<rect x="443.8" y="428.4" width="5.6" height="6.4" fill="#fff" stroke="#aa4578" stroke-width="1.2"/>
<rect x="507.5" y="410.5" width="5.6" height="6.4" fill="#fff" stroke="#aa4578" stroke-width="1.2"/>
<rect x="520.2" y="397.8" width="5.6" height="6.4" fill="#fff" stroke="#aa4578" stroke-width="1.2"/>
<rect x="558.8" y="385.4" width="5.6" height="6.4" fill="#fff" stroke="#aa4578" stroke-width="1.2"/>
<rect x="572" y="372.2" width="5.6" height="6.4" fill="#fff" stroke="#aa4578" stroke-width="1.2"/>
<rect x="649" y="350.8" width="5.6" height="6.4" fill="#fff" stroke="#aa4578" stroke-width="1.2"/>
<rect x="661.9" y="350.8" width="5.6" height="6.4" fill="#fff" stroke="#aa4578" stroke-width="1.2"/>
<rect x="592.5" y="603.2" width="72.8" height="33" fill="#fff" stroke="#000" stroke-width="1.5"/>
<text x="597" y="614.7" font-size="11.6" font-style="italic" textLength="58.8" lengthAdjust="spacingAndGlyphs" stroke="#000" stroke-width="0.25">AUC = 0.853</text>
<text x="597" y="628.8" font-size="11.6" font-style="italic" textLength="42.9" lengthAdjust="spacingAndGlyphs" stroke="#000" stroke-width="0.25">P &lt; 0.001</text>
</svg></body></html>
